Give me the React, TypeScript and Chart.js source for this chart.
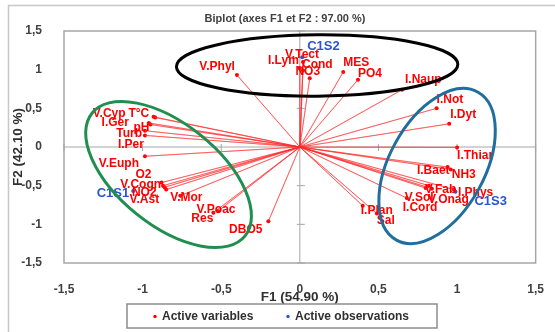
import { useEffect, useRef } from "react";
import { Chart, registerables } from "chart.js";

Chart.register(...registerables);

// ---------- data ----------
const variableNames = [
  "V.Phyl", "V.Tect", "I.Lym", "Cond", "NO3", "MES", "PO4", "I.Naup",
  "I.Not", "I.Dyt", "I.Thiar", "I.Baet", "NH3", "V.Fab", "V.Sol", "V.Onag",
  "I.Cord", "I.Phys", "I.Plan", "Sal", "DBO5", "Res", "V.Poac", "V.Mor",
  "V.Ast", "NO2", "V.Cogn", "O2", "V.Euph", "I.Per", "Turb", "pH", "I.Ger",
  "V.Cyp", "T°C",
];
const variableF1 = [
  -0.40, 0.02, 0.0, 0.02, 0.063, 0.276, 0.37, 0.65,
  0.87, 0.95, 1.0, 0.94, 0.96, 0.82, 0.80, 0.84,
  0.68, 0.98, 0.40, 0.49, -0.20, -0.55, -0.52, -0.76,
  -0.85, -0.86, -0.87, -0.88, -0.985, -0.985, -0.985, -0.95, -0.96,
  -0.93, -0.92,
];
const variableF2 = [
  0.93, 1.10, 1.02, 0.99, 0.89, 0.97, 0.87, 0.74,
  0.50, 0.30, -0.005, -0.26, -0.29, -0.50, -0.53, -0.54,
  -0.66, -0.55, -0.76, -0.86, -0.96, -0.85, -0.83, -0.63,
  -0.55, -0.52, -0.50, -0.46, -0.12, 0.15, 0.21, 0.29, 0.31,
  0.39, 0.38,
];
const observationNames = ["C1S1", "C1S2", "C1S3"];
const observationF1 = [-1.06, 0.015, 0.99];
const observationF2 = [-0.57, 1.16, -0.58];
const axisTicks = [-1.5, -1, -0.5, 0, 0.5, 1, 1.5];

const chartTitle = "Biplot (axes F1 et F2 : 97.00 %)";
const xTitle = "F1 (54.90 %)";
const yTitle = "F2 (42.10 %)";
const legendLabels = ["Active variables", "Active observations"];

// group ellipses (centre in data units, semi-axes in F1 units, angle in degrees)
const groupEllipses = [
  { cx: 0.11, cy: 1.054, a: 0.895, b: 0.195, angle: -0.5, color: "#000000" },
  { cx: -0.835, cy: -0.356, a: 0.624, b: 0.323, angle: 38.7, color: "#1f8f4f" },
  { cx: 0.873, cy: -0.246, a: 0.537, b: 0.303, angle: -61.3, color: "#1f6e9e" },
];

// ---------- style ----------
const FONT = '"Liberation Sans", Arial, sans-serif';
const RED = "#ff0000";
const BLUE = "#2a55d4";
const GRAY = "#a6a6a6";
const TEXT = "#404040";

// label placement relative to marker: [dx, dy, align]
const LABEL_PLACE: Record<string, [number, number, CanvasTextAlign]> = {
  "V.Phyl": [-2, -8, "right"],
  "V.Tect": [-1, -7, "center"],
  "I.Lym": [-1, -7, "right"],
  "Cond": [-1, -6, "left"],
  "NO3": [-2, -6, "center"],
  "MES": [0, -9, "left"],
  "PO4": [0, -6, "left"],
  "I.Naup": [3, -10, "left"],
  "I.Not": [0, -9, "left"],
  "I.Dyt": [1, -9, "left"],
  "I.Thiar": [0, 8, "left"],
  "I.Baet": [2, 4, "right"],
  "NH3": [1, 5, "left"],
  "V.Fab": [-4, 4, "left"],
  "V.Sol": [8, 10, "right"],
  "V.Onag": [-4, 11, "left"],
  "I.Cord": [-4, 10, "left"],
  "I.Phys": [4, 3, "left"],
  "I.Plan": [-2, 5, "left"],
  "Sal": [0, 7, "left"],
  "DBO5": [-6, 8, "right"],
  "Res": [0, 6, "right"],
  "V.Poac": [-2, -1, "center"],
  "V.Mor": [6, 2, "center"],
  "V.Ast": [-7, 10, "right"],
  "NO2": [-8, 5, "right"],
  "V.Cogn": [-2, -1, "right"],
  "O2": [-10, -8, "right"],
  "V.Euph": [-6, 7, "right"],
  "I.Per": [-1, 9, "right"],
  "Turb": [-3, 3, "right"],
  "pH": [-1, 3, "right"],
  "I.Ger": [-20, 0, "right"],
  "V.Cyp": [-28, -3, "right"],
  "T°C": [-6, -4, "right"],
  "C1S1": [-4, 2, "right"],
  "C1S2": [5, -11, "left"],
  "C1S3": [19, 10, "left"],
};

const fmt = (v: number) => String(v).replace(".", ",");

const biplotPlugin = {
  id: "biplotDecor",
  beforeDatasetsDraw(chart: any) {
    const { ctx, chartArea: ca, scales } = chart;
    const x = scales.x, y = scales.y;
    ctx.save();
    // outer border
    ctx.strokeStyle = "#c8c8c8";
    ctx.lineWidth = 1.5;
    ctx.beginPath();
    ctx.moveTo(8.5, 340);
    ctx.lineTo(8.5, 5.5);
    ctx.lineTo(560, 5.5);
    ctx.stroke();
    // zero axes
    const x0 = x.getPixelForValue(0);
    const y0 = y.getPixelForValue(0);
    ctx.strokeStyle = GRAY;
    ctx.lineWidth = 1;
    ctx.beginPath();
    ctx.moveTo(ca.left, y0);
    ctx.lineTo(ca.right, y0);
    ctx.moveTo(x0, ca.top);
    ctx.lineTo(x0, ca.bottom);
    axisTicks.forEach((v) => {
      const px = x.getPixelForValue(v);
      ctx.moveTo(px, y0 - 3);
      ctx.lineTo(px, y0 + 4);
      const py = y.getPixelForValue(v);
      ctx.moveTo(x0 - 3, py);
      ctx.lineTo(x0 + 5, py);
    });
    ctx.stroke();
    // frame
    ctx.lineWidth = 1.5;
    ctx.strokeRect(ca.left, ca.top, ca.width, ca.height);
    ctx.restore();
  },
  afterDatasetsDraw(chart: any) {
    const { ctx, chartArea: ca, scales } = chart;
    const x = scales.x, y = scales.y;
    ctx.save();
    // labels
    ctx.textBaseline = "middle";
    const drawLabels = (dsIndex: number, names: string[], color: string, font: string) => {
      const meta = chart.getDatasetMeta(dsIndex);
      ctx.fillStyle = color;
      ctx.font = font;
      names.forEach((n, i) => {
        const el = meta.data[i];
        if (!el) return;
        const p = LABEL_PLACE[n] || [3, -6, "left"];
        ctx.textAlign = p[2];
        ctx.fillText(n, el.x + p[0], el.y + p[1]);
      });
    };
    drawLabels(1, variableNames, RED, `bold 12px ${FONT}`);
    drawLabels(2, observationNames, BLUE, `bold 13px ${FONT}`);

    // ellipses
    const unit = x.getPixelForValue(1) - x.getPixelForValue(0);
    groupEllipses.forEach((e) => {
      ctx.beginPath();
      ctx.ellipse(
        x.getPixelForValue(e.cx),
        y.getPixelForValue(e.cy),
        e.a * unit,
        e.b * unit,
        (e.angle * Math.PI) / 180,
        0,
        Math.PI * 2
      );
      ctx.strokeStyle = e.color;
      ctx.lineWidth = 3;
      ctx.stroke();
    });

    // title
    ctx.fillStyle = TEXT;
    ctx.textAlign = "center";
    ctx.font = `bold 11px ${FONT}`;
    ctx.fillText(chartTitle, 285, 19);

    // axis titles
    ctx.font = `bold 13.5px ${FONT}`;
    ctx.fillStyle = "#303030";
    ctx.fillText(xTitle, (ca.left + ca.right) / 2, 297);
    ctx.save();
    ctx.translate(18, (ca.top + ca.bottom) / 2);
    ctx.rotate(-Math.PI / 2);
    ctx.fillText(yTitle, 0, 0);
    ctx.restore();

    // legend
    ctx.strokeStyle = "#8c8c8c";
    ctx.lineWidth = 1.5;
    ctx.strokeRect(127, 304, 310, 24);
    ctx.font = `bold 12px ${FONT}`;
    ctx.textAlign = "left";
    const items: [string, string, number][] = [
      [legendLabels[0], RED, 155],
      [legendLabels[1], BLUE, 288],
    ];
    items.forEach(([t, c, lx]) => {
      ctx.fillStyle = c;
      ctx.beginPath();
      ctx.arc(lx, 316.5, 1.7, 0, Math.PI * 2);
      ctx.fill();
      ctx.fillStyle = "#303030";
      ctx.fillText(t, lx + 7, 317);
    });
    ctx.restore();
  },
};

export default function App() {
  const ref = useRef<HTMLCanvasElement>(null);
  useEffect(() => {
    if (!ref.current) return;
    const rays: { x: number; y: number }[] = [];
    variableNames.forEach((_, i) => {
      rays.push({ x: 0, y: 0 });
      rays.push({ x: variableF1[i], y: variableF2[i] });
    });
    const chart = new Chart(ref.current, {
      type: "scatter",
      data: {
        datasets: [
          {
            label: "rays",
            data: rays,
            showLine: true,
            pointRadius: 0,
            borderColor: "rgba(255,40,40,0.5)",
            borderWidth: 1,
          },
          {
            label: legendLabels[0],
            data: variableNames.map((_, i) => ({ x: variableF1[i], y: variableF2[i] })),
            pointRadius: 2,
            pointBackgroundColor: RED,
            pointBorderWidth: 0,
            borderColor: RED,
          },
          {
            label: legendLabels[1],
            data: observationNames.map((_, i) => ({ x: observationF1[i], y: observationF2[i] })),
            pointRadius: 2,
            pointBackgroundColor: BLUE,
            pointBorderWidth: 0,
            borderColor: BLUE,
          },
        ],
      } as any,
      options: {
        animation: false,
        responsive: false,
        maintainAspectRatio: false,
        devicePixelRatio: 1,
        layout: { padding: { left: 0, top: 31, right: 13, bottom: 0 } },
        plugins: {
          legend: { display: false },
          tooltip: { enabled: false },
          title: { display: false },
        },
        scales: {
          x: {
            type: "linear",
            min: -1.5,
            max: 1.5,
            grid: { display: false },
            border: { display: false },
            afterFit: (s: any) => {
              s.height = 69;
            },
            afterBuildTicks: (s: any) => {
              s.ticks = axisTicks.map((v) => ({ value: v }));
            },
            ticks: {
              padding: 11,
              color: TEXT,
              font: { family: FONT, size: 12, weight: "bold" },
              callback: (v: any) => fmt(Number(v)),
            },
          },
          y: {
            type: "linear",
            min: -1.5,
            max: 1.5,
            grid: { display: false },
            border: { display: false },
            afterFit: (s: any) => {
              s.width = 64;
            },
            afterBuildTicks: (s: any) => {
              s.ticks = axisTicks.map((v) => ({ value: v }));
            },
            ticks: {
              padding: 14,
              color: TEXT,
              font: { family: FONT, size: 12, weight: "bold" },
              callback: (v: any) => fmt(Number(v)),
            },
          },
        },
      } as any,
      plugins: [biplotPlugin],
    });
    return () => chart.destroy();
  }, []);
  return (
    <div style={{ position: "absolute", left: 0, top: 0, width: 555, height: 332, background: "#fff" }}>
      <canvas ref={ref} width={555} height={332} style={{ display: "block", width: 555, height: 332 }} />
    </div>
  );
}
